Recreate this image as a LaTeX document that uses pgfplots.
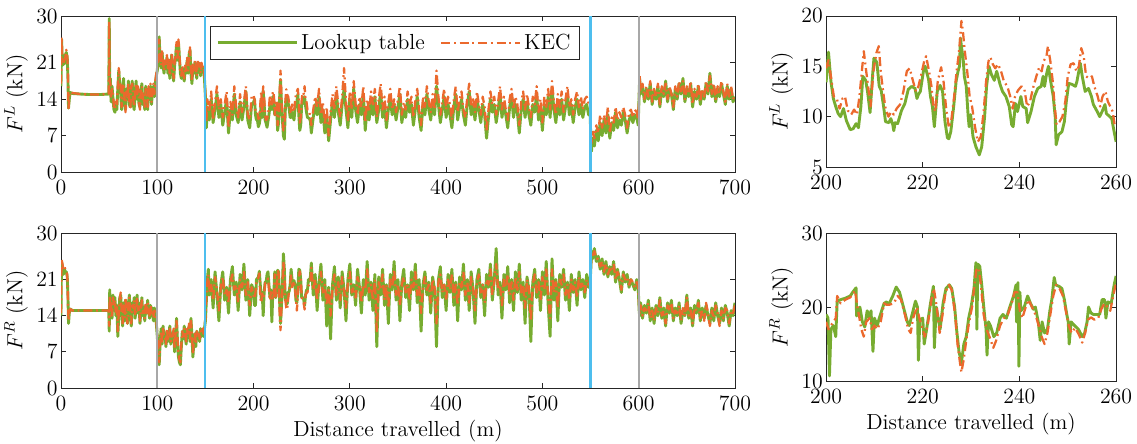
\documentclass[border=0pt]{standalone}
\usepackage{pgfplots}
\usepackage{pgfplotstable}
\pgfplotsset{compat=1.18}
\definecolor{lutgreen}{RGB}{119,172,48}
\definecolor{kecorange}{RGB}{235,105,45}
\definecolor{vgray}{RGB}{168,168,168}
\definecolor{vblue}{RGB}{77,190,238}
\definecolor{axgray}{RGB}{38,38,38}

\pgfplotstableread{
x lut kec
0 16.5 17
0.6 25.5 26
1.5 20.5 21
2.5 21.5 21
3.5 20.8 21.5
4.5 22.5 22
5.5 23 23.5
6.5 22 22.5
7.2 18 19
7.8 12.3 12
8.6 14 14.5
9.5 15.3 15.4
12 15.1 15.2
20 15 15
30 14.9 14.9
40 14.9 14.9
49.6 15 15
50.1 29.5 29
50.6 17 17.5
51.3 18 17
52 13.5 14.5
53 16.5 16
54 14 15
55 12 12.5
56 11.5 12
57 13 13.5
58 12 13
59 16 16.5
60 19.5 20
61 17 18
62 15 16
63 12 12.5
64 16 16.5
65 18 17
66 13.5 14
67 12 11.5
68 16 15.5
69 14 14
70 17.5 17
71 13 13.5
72 12.5 12
73 16 16.5
74 17.5 17
75 13 14
76 12 12.5
77 15 15.5
78 17.5 17
79 14 14.5
80 16 16.5
81 13 13.5
82 12.5 12
83 15.5 16
84 17 16.5
85 13 14
86 14.5 15
87 12 12.5
88 16.5 16
89 15 15.5
90 12 12.5
91 16 16.5
92 14 14.5
93 16.5 17
94 13 13.5
95 15.5 15
96 16.5 17
97 14.5 15
98 17 17.5
99 18.5 19
100 19.5 20
101 22 22.5
102 26 25.5
103 21 22
104 20 20.5
105 23 23.5
106 20.5 21
107 19 19.5
108 21 21.5
109 20 20.5
110 22 22.5
111 19 19.5
112 21.5 22
113 18 18.5
114 20 20
115 22.5 23
116 19.5 20
117 17.5 18
118 20.5 21
119 22 22.5
120 24.5 25
121 21.5 22
122 25 25.5
123 22 22.5
124 19 19.5
125 18 18.5
126 20 20.5
127 18.5 19
128 17.5 18
129 20 20.5
130 19 19.5
131 21.5 22
132 19 19.5
133 22.5 23
134 23.5 24
135 19 19.5
136 17 17.5
137 20.5 21
138 19 19.5
139 21 21.5
140 20 20.5
141 18 18.5
142 21 21.5
143 19.5 20
144 20.5 21
145 18.5 19
146 20.5 21
147 19.5 20
148 20 20.5
149 18 18.5
150 14.5 15
151 8.5 9.5
152 12.5 14
154 10 11.5
156 14 15.5
158 9.5 10
160 12 13.5
162 15 16.5
164 10.5 12
166 13 14
168 9 10.5
170 11.5 13
172 14 15.5
174 7.5 8.5
176 12 13.5
178 10 11
180 15 16.5
182 11 12.5
184 9.5 10.5
186 13.5 15
188 10 11.5
190 12.5 13.5
192 15.5 16.5
194 10 11
196 8.5 10
198 13 14.5
200 13.4 14.8
201 14 14
202 11 11.8
203 10 11.4
204 10 11.5
205 8.7 10.2
206 9.3 10.4
207 10.5 13
208 13.8 15.5
209 10.5 11.5
210 15.6 16.5
211 13 14.5
212 10 11
213 9.4 10
214 8.6 10.2
215 9.8 11
216 11 12.5
217 12.7 14.8
218 12.9 13.5
219 12 13
220 14.5 15.5
221 14 15
222 11 11
223 12.5 13.5
224 12.5 13.8
225 8 9
226 9.5 10.8
227 14 14.5
228 17.8 19.5
229 13 14.5
230 10 11
231 7 8
232 6.3 8
233 12 13.5
234 14.5 15.9
235 14 14.8
236 13.2 14.5
237 12.2 13.2
238 10.5 11.5
239 10.5 12
240 11.5 13
241 10.8 12
242 10 11.5
243 12 13.5
244 13 14.9
245 13.5 15.5
246 15 16
247 11 13.5
248 8 9.5
249 9 10.5
250 13 14
251 13.2 15.3
252 13.5 15
253 14.5 16.5
254 12.7 13.8
255 11.5 13.5
256 10.5 12
257 10.4 12
258 10.3 11.5
259 9.8 10.5
260 7.5 9
262 10.5 12
264 13 14.5
266 11 12.5
268 14.5 16
270 9.5 11
272 12 13.5
274 7.5 9
276 11 12.5
278 6 7
280 10 11.5
282 13.5 15
284 10.5 12
286 15 16.5
288 11.5 13
290 9 10.5
292 13 14.5
294 16 20
296 12 13.5
298 8.5 10
300 14 15.5
302 10.5 12
304 16 17.5
306 12 13
308 9.5 11
310 13 14.5
312 11 12.5
314 15 16.5
316 8 9.5
318 12.5 14
320 10 11.5
322 13.5 15.5
324 11 13
326 14.5 16
328 9.5 10.5
330 12 14
332 15.5 17
334 10.5 12
336 13 14.5
338 8.5 10
340 12 13.5
342 14 16
344 11 12
346 13 14
348 10 11.5
350 12.5 14
352 15 16.5
354 9.5 11
356 12 13.5
358 10.5 12
360 14 15.5
362 11.5 13
364 13 14.5
366 9 10.5
368 12 13.5
370 14.5 16
372 10.5 12
374 8 9
376 13 14.5
378 11 12.5
380 15 16.5
382 12 13.5
384 10 11.5
386 13.5 15
388 11 12
390 16.5 19.5
392 13 14.5
394 9.5 11
396 12 13.5
398 14.5 16
400 10.5 12
402 13 14.5
404 11 13
406 8.5 10
408 12.5 14
410 15 16.5
412 10 11.5
414 12.5 14
416 14 15.5
418 11 12
420 9 10.5
422 13 14.5
424 15.5 17
426 11 12.5
428 13 14
430 10 11.5
432 14 15.5
434 12 13
436 9.5 11
438 13 14.5
440 11 12.5
442 6.5 8
444 10.5 12
446 14 15.5
448 11.5 13
450 13 14.5
452 9.5 11
454 12 13.5
456 15 16.5
458 10.5 12
460 13 14.5
462 11 12
464 8.5 10
466 12.5 14
468 14.5 16
470 10.5 12
472 13 14.5
474 11.5 13
476 7.5 9
478 12 13.5
480 14 15.5
482 10.5 12
484 13.5 15
486 11 12.5
488 9 10.5
490 13 14.5
492 11.5 13
494 15 16.5
496 10 11.5
498 12.5 14
500 8 9.5
502 13 14.5
504 11 12.5
506 14.5 16
508 10.5 12
510 16 17.5
512 12 13.5
514 9.5 11
516 13.5 15
518 11 12.5
520 14 15.5
522 10 11.5
524 12.5 14
526 15 16.5
528 11 12.5
530 13 14
532 9.5 11
534 12.5 14
536 14 15.5
538 11 12.5
540 13 14.5
542 10.5 12
544 12.5 14
546 13 14.5
548 11 13
549.5 12 13.5
550.5 5 6.5
551 4 5.5
552 6.5 8
554 5 6.5
556 8 9
558 6 7.5
560 9.5 11
562 7 8.5
564 10 11
566 7.5 9
568 11 12.5
570 6.5 7.5
572 9.5 10.5
574 8 9.5
576 11.5 12.5
578 8.5 10
580 10 11.5
582 9 10.5
584 11.5 12.5
586 10 11
588 7.5 8.5
590 10 11.5
592 11 12
594 9.5 10.5
596 11 12
598 10.5 11.5
599.5 9 10
600.5 15 15.5
601 18 18.5
602 15 15.5
604 16.5 17
606 13.5 14
608 16 16.5
610 14 14.5
612 17 17.5
614 13 13.5
616 15.5 16
618 14 14.5
620 16.5 17
622 12.5 13
624 16 16.5
626 14.5 15
628 17.5 17
630 13.5 14
632 16 16.5
634 15 15
636 12 12.5
638 16 16.5
640 14 14.5
642 17 17.5
644 15 15.5
646 18 17.5
648 13.5 14
650 16 16.5
652 14.5 15
654 17 17.5
656 12.5 13
658 15.5 16
660 14 14.5
662 16.5 17
664 13 13.5
666 15.5 16
668 14 14.5
670 17 17.5
672 15 15.5
674 19 18.5
676 14.5 15
678 16.5 17
680 13.5 14
682 16 16.5
684 14.5 15
686 17 17.5
688 15 15.5
690 13 13.5
692 16.5 17
694 14 14.5
696 16 16.5
698 13.5 14
700 14.5 15
}\tabL

\pgfplotstableread{
x lut kec
0 14 14.5
0.5 24.5 25
1.5 23.5 24
2.5 22 23
3.5 23 23.5
4.5 22.5 23
5.5 22.5 22.5
6.5 21.5 22
7.2 18 17
7.8 12.5 13
8.6 14.5 14.5
9.5 15.3 15.3
12 15 15
20 15 15
30 15 15
40 15 15
49.6 15 15
50.1 11 12
50.6 19 18
51.3 14 14.5
52 17 16.5
53 13.5 14
54 18 17.5
55 15.5 16
56 17.5 17
57 14 14.5
58 16 16
59 10 11
60 14 14.5
61 17.5 17
62 18 18.5
63 14.5 15
64 12 12.5
65 16.5 16
66 13 13.5
67 17 17.5
68 14 14
69 12.5 12.5
70 16 16.5
71 18 17.5
72 14 14.5
73 12 12.5
74 16.5 16
75 15 15.5
76 17.5 17
77 13.5 14
78 15.5 15
79 18 17.5
80 14.5 15
81 16.5 16
82 12.5 13
83 15 15.5
84 17.5 17
85 14 14.5
86 15.5 15
87 13 13.5
88 16 16.5
89 14.5 14.5
90 17 16.5
91 15 15.5
92 13.5 14
93 16 16
94 14 14.5
95 15.5 15
96 13 13.5
97 15.5 15
98 14 14.5
99 12.5 13
100 10 10.5
101 7 7.5
102 4.5 5
103 9 8.5
104 11.5 11
105 8.5 9
106 12 11.5
107 9.5 10
108 10.5 10
109 8 8.5
110 11 11.5
111 9 9.5
112 10 10.5
113 12 11.5
114 8.5 9
115 10.5 10
116 9.5 10
117 11 11.5
118 7 7.5
119 10 10.5
120 13.5 13
121 9 9.5
122 6 6.5
123 5 5.5
124 4.5 5
125 8 8.5
126 11 11
127 9.5 10
128 12 11.5
129 10 10.5
130 8.5 9
131 11 11.5
132 10 10
133 12 12.5
134 9 9.5
135 13.5 13
136 10 10.5
137 6 6.5
138 9 9.5
139 10.5 10.5
140 8 8.5
141 11 11
142 9.5 10
143 10.5 11
144 9 9.5
145 11.5 11
146 10 10.5
147 11 11.5
148 10 10.5
149 11.5 12
150 13 13.5
151 17 17.5
152 21 20.5
153 23 22
154 18 18.5
156 21 20
158 15.5 17
160 22.5 21.5
162 18 19
164 13 15
166 20 19.5
168 22.5 21.5
170 17 18
172 19.5 19
174 14.5 16.5
176 21 20.5
178 23.5 22
180 18 19
182 20.5 20
184 15 16.5
186 22 21
188 19 19.5
190 24 22.5
192 17 18
194 21 20.5
196 14 16
198 20 19.5
200 19 18
201 16 17.3
202 16 18.5
203 21 20.5
204 21.2 21
205 21.5 21.3
206 22.6 22.2
207 20 17.5
208 17.3 16.5
209 18.5 18.3
210 14 17.5
211 18.5 18
212 20.5 20.3
213 20.4 20.3
214 22 20.8
215 22.5 21.2
216 20 19.2
217 17.5 17
218 19 18.5
219 12.8 18.5
220 18.5 17
221 18 18
222 22.5 22
223 17.5 17.5
224 19.5 18.8
225 22.8 22.8
226 22.5 22.3
227 17 15
228 12.5 11.2
229 16 15.5
230 20 19.5
231 26 24.5
232 23 22
233 17 17
234 17.5 15.5
235 16.3 15.2
236 18.5 17.5
237 18.7 18.7
238 20 20.2
239 23 22
240 21 19.5
241 20 20
242 20.8 20.7
243 20 19.3
244 17 17.3
245 16.5 15
246 19 18
247 23 21
248 22.8 22.6
249 21 21.5
250 17.5 17.2
251 17.5 16.8
252 17.2 16.5
253 16 15.2
254 18 18
255 19 18.4
256 19 18.5
257 21 19.8
258 20.7 20
259 21.5 20.5
260 24.2 23.3
262 18 19
264 22 21
266 15 17
268 20.5 20
270 24 22.5
272 17 18.5
274 21 20
276 12 16
278 19.5 19
280 9.5 14
282 20 19.5
284 23.5 22
286 17 18
288 21.5 20.5
290 15.5 17
292 22.5 21.5
294 19 19
296 13 15.5
298 21 20.5
300 24 22.5
302 18 18.5
304 20 19.5
306 16 17.5
308 23 21.5
310 19.5 20
312 14.5 16.5
314 21 20
316 18 19
318 24.5 23
320 17 18.5
322 20.5 20
324 15 17
326 22 21
328 8 11
330 21.5 20.5
332 18 19
334 23 22
336 16 17
338 20 20
340 12.5 15.5
342 22 21
344 19 19.5
346 24.5 23
348 17 18
350 21 20
352 13 16
354 20.5 20
356 23 21.5
358 17.5 18.5
360 20 20
362 15 17
364 22.5 21
366 19 19.5
368 24 22.5
370 16.5 18
372 21 20
374 11 14.5
376 20 19.5
378 22.5 21.5
380 18 19
382 20.5 20
384 14.5 16.5
386 21.5 21
388 19 19.5
390 8 12.5
392 21 20.5
394 23.5 22
396 17.5 18.5
398 20 20
400 15 17
402 22 21
404 18.5 19
406 23 22
408 16 17.5
410 20.5 20
412 13 16
414 21.5 20.5
416 19 19.5
418 24 22.5
420 17 18
422 21 20.5
424 15 16.5
426 22.5 21.5
428 19 19.5
430 12.5 15
432 21 20.5
434 23 22
436 17.5 18.5
438 20 20
440 14 16.5
442 22 21
444 19.5 20
446 24 23
448 17 18
450 21 20.5
452 27 24
454 18 19
456 20.5 20
458 13.5 16
460 22 21
462 19 19.5
464 23.5 22
466 16.5 18
468 21 20.5
470 15 17
472 22.5 21.5
474 18.5 19
476 24 22.5
478 17 18.5
480 20.5 20
482 12.5 15.5
484 21.5 21
486 19 19.5
488 9 13
490 20.5 20
492 23 22
494 17.5 18.5
496 21 20.5
498 15 17
500 22.5 21.5
502 18 19
504 24.5 23
506 16 17.5
508 10 13.5
510 25 23
512 17 18.5
514 21 20.5
516 13 15.5
518 22 21
520 19.5 20
522 23 22
524 17 18
526 20.5 20
528 15 17
530 22 21
532 18.5 19
534 21 20.5
536 16 17.5
538 22.5 21.5
540 19 19.5
542 21 20.5
544 17.5 18.5
546 22 21
548 19.5 20
549.5 20 20.5
550.5 24 23.5
551 26.5 26
552 25 25.5
554 27 26.5
556 24.5 25
558 25.5 25
560 23 23.5
562 25 24.5
564 22 22.5
566 24.5 24
568 21.5 22
570 23.5 23
572 22 22.5
574 24.5 24
576 20.5 21
578 23 22.5
580 21 21.5
582 18.5 19
584 22.5 22
586 20.5 21
588 22 21.5
590 19.5 20
592 21 21
594 20 20.5
596 19 19.5
598 21 20.5
599.5 19.5 19.5
600.5 15 15.5
601 14 14.5
602 16.5 16
604 13.5 14
606 16 15.5
608 14.5 15
610 17 16.5
612 13 13.5
614 15.5 15
616 12.5 13
618 16 15.5
620 14 14.5
622 17.5 17
624 13.5 14
626 15.5 15
628 12 12.5
630 16.5 16
632 14.5 15
634 17 16.5
636 13 13.5
638 15.5 15
640 14 14.5
642 16.5 16
644 12.5 13
646 15 15.5
648 14 14
650 18 17.5
652 13.5 14
654 15.5 15
656 12 12.5
658 16 15.5
660 14.5 15
662 17 16.5
664 13 13.5
666 15.5 15
668 13.5 13
670 16 16.5
672 14 14.5
674 12.5 12
676 15.5 15
678 13 13.5
680 16.5 16
682 14 14.5
684 12.5 12
686 15.5 15
688 13 13.5
690 16 15.5
692 14.5 15
694 12 12.5
696 15 15
698 14 14.5
700 16.5 16
}\tabR

\pgfplotstableread{
x lut
200.0 13.4
200.5 16.4
201.0 13.5
201.5 11.8
202.0 11.0
202.5 10.3
203.0 10.0
203.6 10.8
204.2 9.6
205.0 8.7
205.6 8.8
206.2 9.3
206.7 8.9
207.2 11.0
207.6 14.0
208.2 13.6
208.6 12.4
209.1 10.4
209.6 14.0
209.9 15.8
210.5 15.4
211.0 13.0
211.4 12.6
211.9 11.0
212.3 9.5
213.0 9.4
213.4 9.8
213.8 9.2
214.0 8.6
214.3 9.4
214.8 9.3
215.6 10.6
216.3 11.3
217.0 12.7
217.7 13.0
218.4 12.8
218.8 11.8
219.1 12.2
219.5 12.5
220.2 14.7
220.5 15.0
221.2 13.7
221.6 12.0
222.0 11.0
222.4 9.0
223.0 12.5
223.6 13.1
224.1 12.5
224.6 9.5
225.1 7.9
225.4 7.8
225.8 8.5
226.4 11.0
226.9 13.5
227.3 14.5
227.6 15.0
227.8 17.8
228.0 17.0
228.4 15.5
228.6 14.0
229.0 13.0
229.4 10.0
229.6 9.0
229.9 10.2
230.4 8.0
231.0 7.0
231.7 6.2
232.2 7.0
232.8 10.0
233.2 13.0
233.7 15.0
234.2 14.2
234.8 13.6
235.3 14.5
236.0 13.2
236.5 12.5
237.2 12.0
237.9 11.0
238.4 9.2
238.7 9.0
239.2 11.3
239.6 10.5
240.3 12.0
240.7 11.0
241.4 10.8
241.7 9.4
242.4 10.5
243.1 12.0
243.8 12.8
244.5 13.0
244.9 14.0
245.2 13.0
245.6 14.2
246.0 15.0
246.3 14.0
247.0 12.0
247.4 10.0
247.6 7.2
248.1 8.2
248.8 8.5
249.3 9.5
249.7 11.5
250.2 13.3
250.9 13.2
251.6 13.0
251.9 13.5
252.6 15.3
253.0 14.0
253.6 12.5
254.3 12.8
254.9 12.0
255.3 11.2
256.1 10.5
256.6 10.0
257.1 10.5
257.7 11.2
258.0 10.3
258.7 10.0
259.1 9.8
259.6 8.5
260.0 7.5
}\tabZLlut

\pgfplotstableread{
x kec
200.0 14.8
200.5 15.6
201.0 14.0
201.6 12.0
202.2 11.8
202.8 10.8
203.4 11.8
203.9 12.0
204.5 10.6
205.2 10.2
205.8 10.7
206.4 10.2
206.9 12.0
207.4 14.5
207.8 16.5
208.3 14.5
208.7 13.0
209.2 11.0
209.8 14.5
210.4 16.3
210.9 17.0
211.3 14.5
211.8 12.5
212.3 10.8
212.9 10.0
213.5 10.5
214.0 10.2
214.6 10.8
215.3 11.2
216.0 12.5
216.7 14.5
217.3 14.8
218.0 13.5
218.6 12.5
219.1 13.0
219.6 14.0
220.3 15.5
220.7 16.0
221.3 14.5
221.8 13.0
222.2 11.0
222.6 10.5
223.1 13.5
223.8 14.9
224.3 13.5
224.8 11.0
225.4 8.9
225.9 9.6
226.5 12.0
227.0 14.5
227.4 16.0
227.7 17.5
228.0 19.5
228.3 18.5
228.7 16.5
229.2 14.5
229.7 12.0
230.2 11.0
230.8 9.0
231.4 7.5
232.0 8.0
232.6 10.5
233.1 13.5
233.6 15.5
234.0 15.9
234.5 15.2
235.0 14.8
235.6 15.2
236.2 14.5
236.8 13.5
237.5 13.0
238.1 12.0
238.6 10.8
239.1 12.0
239.7 12.6
240.4 13.0
241.0 12.8
241.6 11.0
242.2 11.5
242.8 12.8
243.5 14.0
244.1 14.9
244.6 14.5
245.0 15.5
245.6 16.0
245.9 17.0
246.4 15.5
246.9 13.5
247.3 11.0
247.7 9.2
248.3 9.5
248.9 10.0
249.5 11.5
250.0 14.0
250.6 15.2
251.2 15.3
251.8 14.5
252.3 15.0
252.8 16.8
253.3 16.0
253.8 14.0
254.4 13.8
255.0 14.0
255.5 13.0
256.2 12.0
256.7 11.0
257.2 12.0
257.8 12.5
258.3 11.5
258.8 11.0
259.3 10.5
259.7 9.2
260.0 9.0
}\tabZLkec

\pgfplotstableread{
x lut
200.0 19.0
200.4 18.5
200.7 10.7
201.0 17.0
201.5 17.5
202.0 16.0
202.3 20.8
203.0 21.0
204.0 21.2
205.0 21.5
205.5 22.0
206.2 22.6
206.3 18.8
207.0 20.0
207.5 18.0
208.0 17.3
208.5 19.5
209.0 18.5
209.3 19.5
209.7 14.0
210.0 18.5
210.6 17.5
211.0 18.5
212.0 20.5
212.5 20.7
213.0 20.4
213.8 21.5
214.5 22.7
215.2 22.0
216.0 20.0
216.8 18.0
217.2 17.5
217.8 19.0
218.5 20.8
218.9 20.0
219.1 12.8
219.4 18.3
220.0 18.5
220.3 15.0
220.8 17.0
221.6 20.5
222.2 22.8
222.4 14.5
222.8 20.0
223.6 17.0
224.2 20.5
224.8 22.5
225.5 23.0
226.0 22.5
226.6 20.0
227.0 17.0
227.5 14.0
228.0 12.5
228.5 15.0
229.0 16.0
229.5 18.5
230.0 20.0
230.6 22.5
231.0 26.0
231.2 17.0
231.4 25.8
231.8 25.5
232.2 23.0
232.7 19.5
233.1 17.0
233.3 13.5
233.6 18.0
234.0 17.5
234.7 16.0
235.3 16.5
236.0 18.5
236.6 19.0
237.3 18.5
238.0 20.0
238.8 21.5
239.3 23.0
239.4 18.0
239.7 23.3
239.9 12.0
240.1 22.0
240.3 19.5
241.0 20.0
241.7 21.5
242.3 20.5
242.9 19.7
243.3 20.0
243.9 18.0
244.3 15.5
244.7 18.0
245.2 16.5
245.8 17.0
246.3 19.5
246.7 21.0
247.2 24.0
247.5 23.0
248.2 22.8
248.8 22.5
249.3 21.0
249.8 19.0
250.1 18.0
250.3 15.0
250.7 18.0
251.4 17.5
252.2 17.0
253.0 16.0
253.5 16.5
254.0 18.0
254.3 20.0
254.8 19.2
255.3 19.0
256.0 19.0
256.6 19.0
257.1 21.0
257.6 21.0
257.9 18.5
258.3 20.7
259.0 20.5
259.6 23.0
260.0 24.2
}\tabZRlut

\pgfplotstableread{
x kec
200.0 18.0
200.5 17.0
201.0 17.5
202.0 18.5
202.3 21.5
203.0 20.5
204.0 21.0
205.0 21.3
206.0 22.2
206.5 20.0
207.3 17.0
207.8 16.0
208.3 18.0
209.0 18.5
209.5 17.0
210.0 17.5
210.6 17.0
211.3 18.0
212.0 20.5
212.5 20.3
213.0 20.3
214.0 20.5
214.8 21.5
215.5 21.0
216.3 19.0
217.0 17.0
217.5 16.5
218.0 18.5
218.8 20.0
219.3 18.5
220.0 17.0
220.4 16.0
221.0 17.5
221.8 21.0
222.3 22.5
222.9 20.0
223.5 16.5
224.1 19.0
224.7 22.0
225.4 23.0
226.0 22.3
226.7 19.0
227.2 15.0
227.7 12.5
228.0 11.2
228.5 13.0
229.0 15.5
229.6 18.0
230.2 20.0
230.7 23.0
231.1 25.0
231.6 25.3
232.1 22.5
232.6 19.0
233.2 17.0
233.8 16.0
234.6 14.5
235.2 15.5
236.0 17.5
236.8 18.5
237.6 19.0
238.4 20.5
239.0 22.0
239.6 22.0
240.1 19.5
240.6 18.5
241.3 20.0
241.9 21.0
242.6 20.0
243.3 19.0
244.0 17.5
244.6 16.0
245.2 15.0
245.8 16.5
246.4 19.0
247.0 21.5
247.6 23.0
248.3 22.5
249.0 21.5
249.6 19.5
250.2 17.5
250.8 16.5
251.5 17.2
252.3 16.3
253.0 15.2
253.6 16.5
254.2 18.3
254.8 18.6
255.5 18.3
256.3 18.5
257.0 19.8
257.6 20.5
258.2 20.0
258.8 19.5
259.4 21.5
260.0 23.3
}\tabZRkec

\pgfplotsset{
  every axis/.append style={
    scale only axis,
    axis line style={axgray, line width=0.5pt},
    every tick/.style={axgray, line width=0.5pt},
    tick align=inside,
    major tick length=3.5pt,
    anchor=south west,
    clip=true,
    font=\Large,
    yticklabel style={inner xsep=2pt, inner ysep=0pt},
    xticklabel style={inner ysep=0pt, yshift=-5.5pt},
    xlabel style={inner ysep=1pt, yshift=-5pt},
  },
  lutline/.style={lutgreen, line width=1.9pt, line join=round},
  kecline/.style={kecorange, line width=1.5pt, line join=round, dash pattern=on 6pt off 2.5pt on 1.2pt off 2.5pt},
  vline/.style={line width=1.4pt, forget plot},
}

\begin{document}
\begin{tikzpicture}[font=\Large]
\useasboundingbox (0pt,0pt) rectangle (750.4pt,292.4pt);

% top left
\begin{axis}[
  at={(40.26pt,178.86pt)}, width=444.8pt, height=102.96pt,
  xmin=0, xmax=700, ymin=0, ymax=30,
  xtick={0,100,...,700}, ytick={0,7,14,21,30},
  ylabel={$F^{L}$ (kN)},
  legend columns=2,
  legend style={at={(0.221,0.936)}, anchor=north west, draw=axgray, line width=0.5pt, fill=white,
    font=\Large,
    inner xsep=4pt, inner ysep=3pt, /tikz/every even column/.append style={column sep=8pt}},
  legend image code/.code={\draw[#1] (0pt,0pt) -- (52pt,0pt);},
]
\addplot[lutline] table[x=x, y=lut] {\tabL};
\addlegendentry{Lookup table}
\addplot[kecline] table[x=x, y=kec] {\tabL};
\addlegendentry{KEC}
\addplot[vline, vgray] coordinates {(100,0) (100,30)};
\addplot[vline, vgray] coordinates {(600,0) (600,30)};
\addplot[vline, vblue] coordinates {(150,0) (150,30)};
\addplot[vline, vblue] coordinates {(550,0) (550,30)};
\end{axis}

% bottom left
\begin{axis}[
  at={(40.26pt,36.3pt)}, width=444.8pt, height=102.3pt,
  xmin=0, xmax=700, ymin=0, ymax=30,
  xtick={0,100,...,700}, ytick={0,7,14,21,30},
  ylabel={$F^{R}$ (kN)},
  xlabel={Distance travelled (m)},
]
\addplot[lutline] table[x=x, y=lut] {\tabR};
\addplot[kecline] table[x=x, y=kec] {\tabR};
\addplot[vline, vgray] coordinates {(100,0) (100,30)};
\addplot[vline, vgray] coordinates {(600,0) (600,30)};
\addplot[vline, vblue] coordinates {(150,0) (150,30)};
\addplot[vline, vblue] coordinates {(550,0) (550,30)};
\end{axis}

% top right
\begin{axis}[
  at={(545.2pt,182.2pt)}, width=191.4pt, height=99.7pt,
  xmin=200, xmax=260, ymin=5, ymax=20,
  xtick={200,220,240,260}, ytick={5,10,15,20},
  ylabel={$F^{L}$ (kN)},
]
\addplot[lutline] table[x=x, y=lut] {\tabZLlut};
\addplot[kecline] table[x=x, y=kec] {\tabZLkec};
\end{axis}

% bottom right
\begin{axis}[
  at={(545.2pt,40.9pt)}, width=191.4pt, height=97.7pt,
  xmin=200, xmax=260, ymin=10, ymax=30,
  xtick={200,220,240,260}, ytick={10,20,30},
  ylabel={$F^{R}$ (kN)},
  xlabel={Distance travelled (m)},
]
\addplot[lutline] table[x=x, y=lut] {\tabZRlut};
\addplot[kecline] table[x=x, y=kec] {\tabZRkec};
\end{axis}
\end{tikzpicture}
\end{document}
